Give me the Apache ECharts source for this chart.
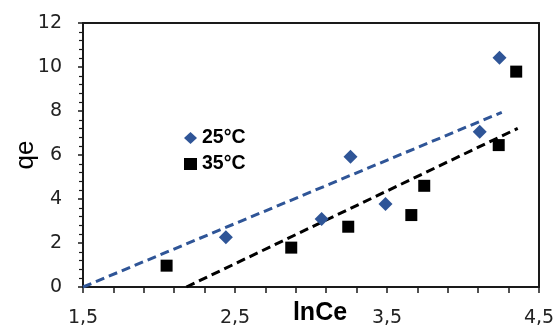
<!DOCTYPE html>
<html><head><meta charset="utf-8">
<script src="https://cdn.jsdelivr.net/npm/echarts@6/dist/echarts.min.js"></script>
<style>html,body{margin:0;padding:0;background:#fff}#c{width:553px;height:328px}</style>
</head><body><div id="c"></div>
<script>
const xTickValues = [1.5,1.7,1.9,2.1,2.3,2.5,2.7,2.9,3.1,3.3,3.5,3.7,3.9,4.1,4.3,4.5];
const xLabelValues = [1.5,2.5,3.5,4.5];
const s25x = [2.44, 3.07, 3.26, 3.49, 4.11, 4.24];
const s25y = [2.26, 3.09, 5.92, 3.77, 7.06, 10.42];
const s35x = [2.05, 2.87, 3.245, 3.66, 3.745, 4.235, 4.35];
const s35y = [0.97, 1.79, 2.74, 3.27, 4.6, 6.45, 9.79];
const trend25 = [[1.5, 0], [4.255, 7.94]];
const trend35 = [[2.18, 0], [4.36, 7.21]];
const names = ['25°C', '35°C'];

const pts = (xs, ys) => xs.map((x, i) => [x, ys[i]]);
const chart = echarts.init(document.getElementById('c'));
const fontFam = 'Liberation Sans, Arial, sans-serif';
const tickFont = 'DejaVu Sans, sans-serif';
const axisCol = '#1a1a1a';
chart.setOption({
  backgroundColor: '#fff',
  animation: false,
  grid: {left: 83, right: 14, top: 23, bottom: 41, containLabel: false, outerBoundsMode: 'none'},
  legend: {
    data: [{name: names[0], icon: 'diamond'}, {name: names[1], icon: 'rect'}],
    orient: 'vertical', left: 184, top: 128, padding: 0, itemWidth: 13, itemHeight: 12, itemGap: 6,
    textStyle: {fontSize: 19.5, fontWeight: 'bold', color: '#000', fontFamily: fontFam}
  },
  xAxis: [{
    type: 'value', min: 1.5, max: 4.5,
    name: 'lnCe', nameLocation: 'middle', nameGap: 14, nameMoveOverlap: false,
    nameTextStyle: {fontSize: 25, fontWeight: 'bold', color: '#000', fontFamily: fontFam, padding: [0, 0, 0, 18]},
    axisLine: {onZero: false, lineStyle: {color: axisCol, width: 2}},
    axisTick: {show: true, inside: false, length: 6, lineStyle: {color: axisCol, width: 1.5}, customValues: xTickValues},
    axisLabel: {customValues: xLabelValues, fontSize: 19, color: '#222', fontFamily: tickFont, margin: 22,
      formatter: v => String(v).replace('.', ',')},
    splitLine: {show: false}
  }, {
    type: 'value', min: 1.5, max: 4.5, position: 'top',
    axisLine: {show: true, onZero: false, lineStyle: {color: axisCol, width: 2}},
    axisTick: {show: false}, axisLabel: {show: false}, splitLine: {show: false}
  }],
  yAxis: [{
    type: 'value', min: 0, max: 12, interval: 2,
    name: 'qe', nameLocation: 'middle', nameGap: 44, nameMoveOverlap: false,
    nameTextStyle: {fontSize: 26, color: '#000', fontFamily: fontFam},
    axisLine: {show: true, onZero: false, lineStyle: {color: axisCol, width: 2}},
    axisTick: {show: true, length: 5, lineStyle: {color: axisCol, width: 1.5}},
    minorTick: {show: true, splitNumber: 5, length: 4, lineStyle: {color: axisCol, width: 1.2}},
    axisLabel: {fontSize: 19, color: '#222', fontFamily: tickFont, margin: 21},
    splitLine: {show: false}, minorSplitLine: {show: false}
  }, {
    type: 'value', min: 0, max: 12, position: 'right',
    axisLine: {show: true, onZero: false, lineStyle: {color: axisCol, width: 2}},
    axisTick: {show: false}, axisLabel: {show: false}, splitLine: {show: false}
  }],
  series: [
    {name: names[0], type: 'scatter', symbol: 'diamond', symbolSize: [14, 14], itemStyle: {color: '#2F5597', opacity: 1}, data: pts(s25x, s25y), z: 5},
    {name: names[1], type: 'scatter', symbol: 'rect', symbolSize: [12, 12], itemStyle: {color: '#000', opacity: 1}, data: pts(s35x, s35y), z: 5},
    {name: 't25', type: 'line', data: trend25, symbol: 'none', lineStyle: {color: '#2F5597', width: 3, type: [9, 5]}, z: 3},
    {name: 't35', type: 'line', data: trend35, symbol: 'none', lineStyle: {color: '#000', width: 3, type: [9, 5]}, z: 3}
  ]
});
</script></body></html>
